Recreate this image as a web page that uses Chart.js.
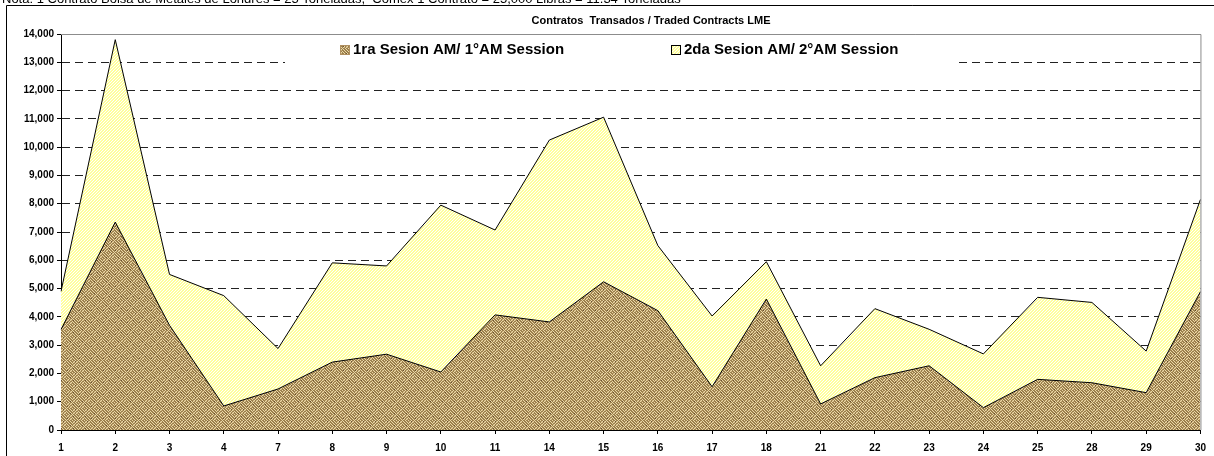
<!DOCTYPE html>
<html>
<head>
<meta charset="UTF-8" />
<title>Contratos Transados LME</title>
<script src="https://cdn.jsdelivr.net/npm/chart.js"></script>
<style>
  html,body{margin:0;padding:0;background:#fff;}
  #wrap{width:1214px;height:456px;position:relative;}
</style>
</head>
<body>
<div id="wrap"><canvas id="chart" width="1214" height="456"></canvas></div>
<script>
// dias de rueda (eje x)
const dias = ["1","2","3","4","7","8","9","10","11","14","15","16","17","18","21","22","23","24","25","28","29","30"];
// 1ra sesion AM
const sesion1 = [3550,7350,3700,850,1450,2400,2680,2050,4070,3820,5240,4220,1530,4630,920,1850,2270,790,1790,1670,1320,4890];
// 2da sesion AM (apilada sobre la 1ra)
const sesion2 = [1350,6450,1800,3900,1430,3510,3120,5900,3000,6430,5820,2300,2500,1320,1350,2440,1290,1900,2900,2840,1470,3260];
const etiquetas = ["1ra Sesion AM/ 1°AM Session", "2da Sesion AM/ 2°AM Session"];
const titulo = "Contratos  Transados / Traded Contracts LME";
const nota = "Nota: 1 Contrato Bolsa de Metales de Londres = 25 Toneladas,  Comex 1 Contrato = 25,000 Libras = 11.34 Toneladas";

const FONT = "'Liberation Sans', Arial, sans-serif";

// textura tipo arpillera (espiga)
function burlap(){
  const c = document.createElement("canvas");
  c.width = 12; c.height = 12;
  const g = c.getContext("2d");
  g.fillStyle = "#9c7f4c"; g.fillRect(0,0,12,12);
  for(let y=0;y<12;y++){
    for(let x=0;x<12;x++){
      const blk = ((Math.floor(x/6) + Math.floor(y/6)) % 2 === 0);
      const on = blk ? ((x + y) % 3 === 0) : ((x - y + 12) % 3 === 0);
      if(on){ g.fillStyle = "#ead9a8"; g.fillRect(x,y,1,1); }
      else if((x*7 + y*5) % 3 === 0){ g.fillStyle = "#c2a672"; g.fillRect(x,y,1,1); }
    }
  }
  g.fillStyle = "#6a5030";
  g.fillRect(3,1,1,1); g.fillRect(10,5,1,1); g.fillRect(1,8,1,1); g.fillRect(7,10,1,1);
  return g.createPattern(c, "repeat");
}
// puntos amarillos
function dots(){
  const c = document.createElement("canvas");
  c.width = 3; c.height = 3;
  const g = c.getContext("2d");
  g.fillStyle = "#ffff9c"; g.fillRect(0,0,3,3);
  g.fillStyle = "#ffffff"; g.fillRect(0,0,1,1); g.fillRect(2,1,1,1); g.fillRect(1,2,1,1);
  return g.createPattern(c, "repeat");
}

const patBrown = burlap();
const patYellow = dots();

const decor = {
  id: "decor",
  beforeDatasetsDraw(chart){
    const ctx = chart.ctx;
    ctx.save();
    ctx.fillStyle = "#fff";
    ctx.fillRect(285, 37, 672, 29);
    ctx.restore();
  },
  afterDraw(chart){
    const ctx = chart.ctx;
    const a = chart.chartArea;
    ctx.save();
    // nota superior (recortada)
    ctx.fillStyle = "#000";
    ctx.font = "13px " + FONT;
    ctx.textBaseline = "alphabetic";
    ctx.fillText(nota, 2, 3, 772);
    // marco exterior
    ctx.strokeStyle = "#000";
    ctx.lineWidth = 1;
    ctx.beginPath();
    ctx.moveTo(6.5, 460);
    ctx.lineTo(6.5, 5.5);
    ctx.lineTo(1214, 5.5);
    ctx.stroke();
    // titulo
    ctx.font = "bold 11px " + FONT;
    ctx.textAlign = "center";
    ctx.textBaseline = "middle";
    ctx.fillText(titulo, 651, 21);
    // marco del area de trazado
    ctx.strokeStyle = "#8c8c8c";
    ctx.beginPath();
    ctx.moveTo(a.left, a.top + 0.5);
    ctx.lineTo(a.right + 0.5, a.top + 0.5);
    ctx.lineTo(a.right + 0.5, a.bottom);
    ctx.stroke();
    // leyenda
    ctx.font = "bold 15px " + FONT;
    ctx.textAlign = "left";
    const pos = [340, 671];
    const fills = [patBrown, patYellow];
    etiquetas.forEach((t, i) => {
      ctx.fillStyle = fills[i];
      ctx.fillRect(pos[i], 45, 9, 9);
      ctx.strokeStyle = i === 0 ? "#b09060" : "#000";
      ctx.strokeRect(pos[i] + 0.5, 45.5, 9, 9);
      ctx.fillStyle = "#000";
      ctx.fillText(t, pos[i] + 13, 50);
    });
    ctx.restore();
  }
};

new Chart(document.getElementById("chart"), {
  type: "line",
  data: {
    labels: dias,
    datasets: [
      { label: etiquetas[0], data: sesion1, fill: "origin", backgroundColor: patBrown,
        borderColor: "#000", borderWidth: 1, pointRadius: 0, tension: 0 },
      { label: etiquetas[1], data: sesion2, fill: "-1", backgroundColor: patYellow,
        borderColor: "#000", borderWidth: 1, pointRadius: 0, tension: 0 }
    ]
  },
  options: {
    responsive: false,
    animation: false,
    devicePixelRatio: 1,
    layout: { padding: { top: 34, right: 5, left: 0, bottom: 0 } },
    plugins: { legend: { display: false }, title: { display: false }, tooltip: { enabled: false } },
    scales: {
      x: {
        offset: false,
        grid: { drawOnChartArea: false, tickLength: 4, tickColor: "#000" },
        border: { color: "#000", width: 1 },
        ticks: { color: "#000", font: { family: FONT, size: 10, weight: "bold" }, padding: 8, maxRotation: 0, autoSkip: false },
        afterFit(s){ s.height = 26; }
      },
      y: {
        stacked: true,
        min: 0, max: 14000,
        grid: { color: "#222", tickLength: 4, tickColor: "#000", tickBorderDash: [] },
        border: { color: "#000", width: 1, dash: [8, 5] },
        ticks: { stepSize: 1000, color: "#000", padding: 3,
          font: { family: FONT, size: 10, weight: "bold" },
          callback: v => v.toLocaleString("en-US") },
        afterFit(s){ s.width = 61; }
      }
    }
  },
  plugins: [decor]
});
</script>
</body>
</html>
